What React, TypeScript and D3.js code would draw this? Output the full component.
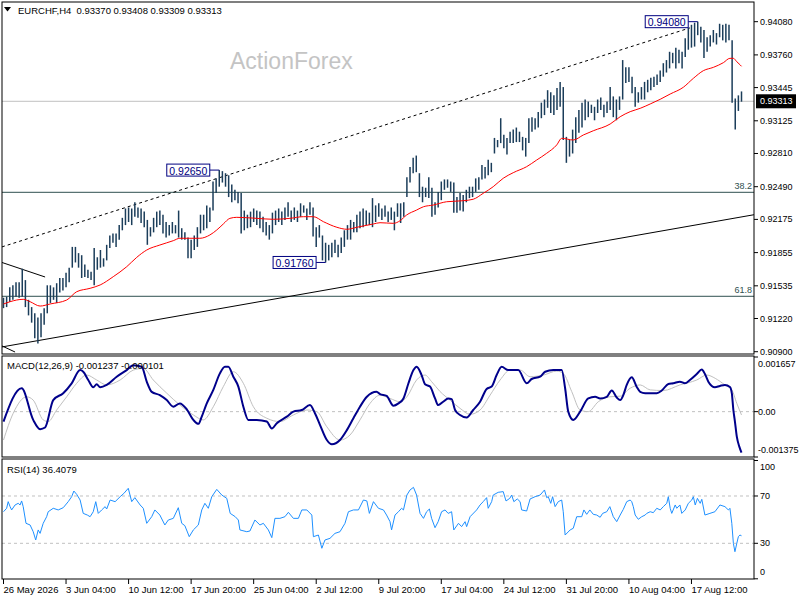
import * as d3 from "d3";

// EURCHF H4 bars
const HIGH = [
  0.9142, 0.9143, 0.9152, 0.9154, 0.9157, 0.9157, 0.917, 0.9159, 0.914, 0.9133,
  0.9127, 0.9123, 0.9127, 0.9132, 0.9154, 0.9154, 0.9152, 0.9156, 0.9161, 0.9161,
  0.9166, 0.9171, 0.9191, 0.9191, 0.9185, 0.9183, 0.9174, 0.9169, 0.9167, 0.919,
  0.9181, 0.9188, 0.918, 0.9193, 0.9202, 0.9204, 0.9204, 0.9212, 0.9219, 0.9228,
  0.9229, 0.9228, 0.9234, 0.9229, 0.9228, 0.9225, 0.9217, 0.921, 0.9219, 0.9225,
  0.9226, 0.9222, 0.9215, 0.9212, 0.9215, 0.9212, 0.9226, 0.9209, 0.9205, 0.92,
  0.9198, 0.9202, 0.921, 0.9222, 0.9222, 0.9231, 0.9229, 0.9254, 0.9257, 0.9265,
  0.9264, 0.9262, 0.926, 0.9251, 0.9246, 0.9244, 0.9243, 0.9226, 0.9222, 0.9225,
  0.9228, 0.9226, 0.9225, 0.922, 0.9215, 0.9212, 0.9224, 0.9226, 0.9228, 0.9225,
  0.9229, 0.9234, 0.9226, 0.9229, 0.9226, 0.9233, 0.9231, 0.9228, 0.9234, 0.9229,
  0.921, 0.9212, 0.9202, 0.9195, 0.9193, 0.9195, 0.9198, 0.9193, 0.92, 0.9207,
  0.9212, 0.9217, 0.9215, 0.9222, 0.9225, 0.9228, 0.9226, 0.9224, 0.9238, 0.9231,
  0.9233, 0.9228, 0.9231, 0.9225, 0.9229, 0.9225, 0.9233, 0.9233, 0.9234, 0.9258,
  0.9268, 0.9277, 0.9279, 0.9262, 0.9249, 0.9248, 0.9258, 0.9248, 0.9234, 0.9244,
  0.9254, 0.9256, 0.9256, 0.9254, 0.9253, 0.9239, 0.9243, 0.9241, 0.9246, 0.9249,
  0.9249, 0.9257, 0.9258, 0.927, 0.9268, 0.9275, 0.9272, 0.9296, 0.9294, 0.9315,
  0.9299, 0.9296, 0.9302, 0.9304, 0.9306, 0.9302, 0.9297, 0.9296, 0.9315, 0.9316,
  0.9315, 0.9321, 0.933, 0.9333, 0.9342, 0.934, 0.9337, 0.9344, 0.935, 0.9345,
  0.9297, 0.9294, 0.9304, 0.9316, 0.9323, 0.933, 0.9333, 0.9331, 0.9328, 0.9326,
  0.9333, 0.9335, 0.9328, 0.9331, 0.9345, 0.9336, 0.9333, 0.9336, 0.9371, 0.9364,
  0.9364, 0.9355, 0.9345, 0.934, 0.9345, 0.935, 0.9352, 0.9354, 0.9355, 0.9357,
  0.9361, 0.9368, 0.9371, 0.9379, 0.9378, 0.9383, 0.9381, 0.9379, 0.9392, 0.9402,
  0.9405, 0.9407, 0.9408, 0.9403, 0.94, 0.9393, 0.9395, 0.94, 0.9397, 0.9406,
  0.9405, 0.9406, 0.9405, 0.939, 0.9334, 0.9337, 0.93408,
];

const LOW = [
  0.9132, 0.9133, 0.9138, 0.914, 0.9143, 0.9142, 0.9143, 0.9133, 0.9125, 0.9118,
  0.9103, 0.9098, 0.9104, 0.9116, 0.9127, 0.9137, 0.914, 0.9137, 0.9147, 0.9149,
  0.9152, 0.9157, 0.9171, 0.9176, 0.9171, 0.9161, 0.9162, 0.9161, 0.9159, 0.9154,
  0.9169, 0.9171, 0.9172, 0.9178, 0.919, 0.9195, 0.9191, 0.9198, 0.9207, 0.9212,
  0.9215, 0.9212, 0.922, 0.9219, 0.9214, 0.921, 0.9193, 0.9201, 0.9205, 0.921,
  0.9212, 0.9204, 0.92, 0.9202, 0.9204, 0.9204, 0.92, 0.9198, 0.9198, 0.918,
  0.918, 0.9188, 0.9191, 0.9204, 0.9207, 0.9209, 0.9215, 0.9226, 0.9243, 0.9249,
  0.9253, 0.9249, 0.9239, 0.9234, 0.9236, 0.9233, 0.9204, 0.9207, 0.9209, 0.921,
  0.9215, 0.9212, 0.9209, 0.9205, 0.9202, 0.9198, 0.9204, 0.9212, 0.9215, 0.9212,
  0.9217, 0.922, 0.9215, 0.9217, 0.9215, 0.922, 0.9224, 0.9217, 0.9222, 0.9201,
  0.9191, 0.92, 0.9178, 0.9176, 0.9178, 0.9181, 0.9185, 0.9181, 0.9185, 0.9191,
  0.9198, 0.9198, 0.9205, 0.9205, 0.9209, 0.921, 0.9212, 0.9212, 0.921, 0.9215,
  0.922, 0.9217, 0.922, 0.9215, 0.9217, 0.9207, 0.922, 0.9214, 0.922, 0.9239,
  0.9253, 0.9262, 0.9263, 0.9239, 0.9234, 0.9239, 0.9238, 0.922, 0.9222, 0.9229,
  0.9236, 0.9246, 0.9248, 0.9244, 0.9224, 0.9224, 0.9226, 0.9225, 0.9234, 0.9238,
  0.9239, 0.9244, 0.9246, 0.9256, 0.9257, 0.926, 0.9263, 0.9281, 0.9287, 0.9291,
  0.9286, 0.928, 0.9291, 0.9291, 0.9292, 0.9292, 0.9284, 0.9278, 0.9291, 0.9302,
  0.9304, 0.9306, 0.9315, 0.9318, 0.9325, 0.932, 0.9318, 0.9323, 0.9326, 0.9294,
  0.9272, 0.9278, 0.9281, 0.9291, 0.9301, 0.9306, 0.9313, 0.9316, 0.932, 0.9313,
  0.932, 0.9323, 0.9316, 0.932, 0.9323, 0.9316, 0.9313, 0.9323, 0.9333, 0.9349,
  0.935, 0.9339, 0.9326, 0.933, 0.9333, 0.9333, 0.934, 0.9342, 0.9345, 0.9347,
  0.935, 0.9355, 0.9359, 0.9363, 0.9368, 0.9363, 0.9368, 0.9363, 0.9374, 0.9381,
  0.9383, 0.9384, 0.9395, 0.9388, 0.9373, 0.9379, 0.9384, 0.9388, 0.9386, 0.9393,
  0.939, 0.9388, 0.939, 0.933, 0.9304, 0.9322, 0.93309,
];

// red moving average, read at bar positions
const MA_AT = [
  0, 2.1, 6.3, 8.5, 11.7, 14.9, 20.2, 23.4, 27.7, 30.9, 35.1, 39.4, 42.6, 45.8, 50, 54.3, 56.4, 59.6,
  62.8, 66, 68.2, 70.3, 72.4, 74.6, 81, 86.3, 91.6, 95.9, 99.1, 102.3, 106.6, 109.8, 113, 118.3,
  120.4, 124.7, 126.8, 128.9, 132.1, 134.3, 137.4, 141.7, 147, 150.2, 153.4, 156.6, 159.8, 163,
  167.3, 170.5, 173.7, 176.9, 178.5, 182.2, 185.4, 188.6, 194, 197.2, 200.4, 203.6, 206.8, 210,
  213.2, 217.4, 220.6, 223.8, 227, 230.2, 232.3, 233.4, 234.5, 235.6, 236,
];
const MA_VAL = [
  0.9136, 0.91382, 0.91405, 0.91382, 0.9134, 0.9136, 0.91398, 0.91478, 0.91511, 0.91543, 0.91623,
  0.91719, 0.91809, 0.9188, 0.91928, 0.9197, 0.91993, 0.91993,
  0.91993, 0.92025, 0.92073, 0.92131, 0.92185, 0.92195, 0.92185, 0.92176, 0.92185, 0.92201,
  0.92201, 0.92153, 0.92099, 0.9208, 0.92099, 0.92131,
  0.92143, 0.92137, 0.92162, 0.92217, 0.92265, 0.92297, 0.92313, 0.92345, 0.92355, 0.92369,
  0.92426, 0.9249, 0.92571, 0.92625,
  0.92683, 0.92747, 0.92812, 0.92892, 0.92956, 0.9294, 0.92988, 0.93029, 0.93094, 0.93164,
  0.93213, 0.93245, 0.93287, 0.93332,
  0.93383, 0.93448, 0.93534, 0.93608, 0.9364, 0.93685, 0.93727, 0.93727, 0.93694, 0.93663, 0.9365,
];

const MACD_AT = [
  0, 5.8, 9.5, 11.7, 13.3, 15.9, 19.1, 21.8, 24.5, 25.5, 27.1, 28.7, 29.8, 30.9, 33, 36.2, 39.4,
  41.5, 44.2, 45.8, 47.4, 50, 52.2, 54.3, 56.4, 58.6, 60.7, 62.3, 63.4, 65, 67.1, 69.2, 70.8, 71.9,
  73.5, 75.1, 76.7, 78.3, 81, 84.2, 85.8, 87.4, 90.6, 92.7, 95.4, 98, 99.6, 101.2, 103.4, 105,
  107.6, 109.8, 111.9, 114, 116.2, 119.3, 120.4, 122.5, 124.7, 126.3, 127.9, 129.5, 131.1, 132.1,
  133.7, 134.8, 136.4, 138, 139, 140.6, 142.2, 143.3, 144.4, 146, 148.1, 150.2, 152.4, 154.5,
  156.1, 157.7, 159.3, 161.4, 164.6, 167.3, 168.9, 171.6, 173.2, 175.8, 178.5, 179.6, 180.6,
  182.2, 184.4, 187, 189.2, 190.8, 192.9, 194.5, 196.1, 197.2, 198.2, 199.3, 200.9, 202.5, 203.6,
  205.2, 208.9, 210.5, 212.6, 214.2, 216.3, 217.9, 219.5, 221.7, 223.3, 224.3, 225.4, 227.5,
  229.1, 230.7, 232.3, 232.9, 233.4, 233.9, 234.5, 235.3, 236,
];
const MACD_VAL = [
  -0.0003, 0.00071, -0.00025, -0.00053, -0.00048, 0.00035, 0.00056, 0.00086, 0.00126, 0.00121,
  0.00096, 0.00074, 0.00083, 0.00074, 0.00081, 0.00106, 0.00126,
  0.00141, 0.00136, 0.00091, 0.0006, 0.0005, 0.00035, 0.00015, 0.00025, 0.00007, -0.00025,
  -0.00037, -0.00015, 0.00025, 0.00066, 0.00116, 0.00136, 0.00136,
  0.00106, 0.00076, 0.00015, -0.00025, -0.00025, -0.0003, -0.00051, -0.00035, -0.00015, 0.0,
  0.00005, 0.0002, -0.00005, -0.0004, -0.00086, -0.00099,
  -0.00086, -0.00056, -0.0002, 0.00015, 0.00045, 0.0006, 0.00053, 0.00048, 0.00018, 0.00025,
  0.0004, 0.00086, 0.00126, 0.00136,
  0.00111, 0.00083, 0.00076, 0.0004, 0.0002, 0.0003, 0.0004, 0.00038, 0.00005, -0.0001, -0.00018,
  0.00005, 0.0003, 0.00069,
  0.00076, 0.00111, 0.00136, 0.00126, 0.00126, 0.00086, 0.00099, 0.00106, 0.00121, 0.00126,
  0.00126, 0.00071, 0.0,
  -0.00025, 0.0, 0.0004, 0.00045, 0.0004, 0.00045, 0.00064, 0.00043, 0.00035, 0.0005, 0.00081,
  0.00104, 0.00075, 0.0006,
  0.00056, 0.00056, 0.00064, 0.00084, 0.00086, 0.00091, 0.00086, 0.00096, 0.00114, 0.00128,
  0.00114, 0.00091, 0.00074,
  0.00078, 0.00081, 0.00075, 0.00056, 0.00005, -0.0003, -0.00076, -0.00106, -0.00124,
];

const SIGNAL_AT = [
  0, 3.1, 7.4, 9.5, 12.7, 14.3, 17, 20.2, 23.4, 26.6, 29.8, 33, 37.3, 41.5, 44.7, 47.9, 52.2, 56.4,
  60.7, 63.9, 67.1, 70.3, 73.5, 76.7, 79.9, 84.2, 88.4, 92.7, 97, 100.2, 103.4, 107.6, 110.8, 114,
  117.2, 120.4, 123.6, 126.8, 129, 132.1, 134.8, 136.9, 139.6, 142.8, 146, 149.2, 152.4, 155.6,
  158.8, 162, 165.2, 168.4, 172.7, 176.9, 179, 181.7, 184.4, 187, 190.2, 193.9, 197.2, 200.4,
  203.6, 206.8, 211, 216.3, 221.7, 224.9, 227.6, 230.7, 232.9, 234.5, 236,
];
const SIGNAL_VAL = [
  -0.00086, -0.00005, 0.00045, 0.00035, -0.00025, -0.0003, 0.00005, 0.00045, 0.00086, 0.00111,
  0.00096, 0.00081, 0.00096, 0.00126, 0.00131, 0.00096, 0.00056, 0.0002,
  -0.0001, -0.00025, 0.00015, 0.00076, 0.00121, 0.00086, 0.00015, -0.0002, -0.0003, -0.0001,
  0.00005, 0.0, -0.00046, -0.00086, -0.00071, -0.00025,
  0.00025, 0.0005, 0.0004, 0.0003, 0.00045, 0.00096, 0.00111, 0.00091, 0.00061, 0.00035, 0.0001,
  -0.00008, 0.00005, 0.0005,
  0.00096, 0.00126, 0.00126, 0.00106, 0.00111, 0.00123, 0.00116, 0.00061, 0.00005, 0.0, 0.0003,
  0.00045, 0.00047, 0.00071,
  0.00081, 0.00066, 0.00064, 0.00081, 0.00096, 0.00111, 0.00101, 0.00081, 0.00066, 0.00025, -0.0001,
];

const RSI_AT = [
  0, 1, 1.5, 2.1, 2.6, 3.7, 4.7, 5.3, 5.8, 6.3, 7.2, 8.5, 9.5, 10.3, 11.1, 11.7, 12.7, 13.8, 14.3,
  15.9, 17.5, 19.1, 20.7, 21.8, 22.5, 23.4, 24.5, 25.5, 26.8, 27.7, 28.7, 29.5, 30.3, 31.4, 32.5,
  33, 34.1, 35.7, 37.3, 38.5, 39.9, 41, 42, 43.7, 44.7, 45.8, 47.4, 48.4, 50, 51.6, 52.7, 54.3,
  55.9, 57, 58, 59.4, 60.7, 62.3, 63.4, 64.4, 65.5, 66.6, 68.2, 69.8, 71.4, 72.5, 74.1, 75.1, 75.6,
  77.8, 78.8, 80.4, 82, 83.1, 84.7, 85.8, 86.8, 88.4, 90, 91.1, 92.7, 94.3, 95.4, 97, 98.6, 99.1,
  100.7, 101.8, 102.8, 104.4, 106, 107.6, 109.2, 110.3, 111.9, 113.5, 115.1, 116.2, 117, 118.3,
  119.9, 121.5, 122.5, 123.6, 124.1, 125.2, 126.3, 127.3, 127.9, 129, 130, 131.1, 132.1, 133.2,
  134.3, 135.3, 136.2, 136.9, 138, 139, 140.1, 141.2, 142.2, 143.3, 144, 145.5, 146.5, 147.6, 148.1,
  149.2, 151.3, 152.4, 153.4, 154.5, 155, 156.1, 156.6, 158.2, 159.8, 160.7, 161.9, 162.5, 163.2,
  164.3, 165.2, 165.7, 167.3, 168.4, 170, 171.6, 173, 173.7, 174.2, 175, 175.6, 176.4, 177.4,
  178.5, 179, 179.6, 181.2, 182.2, 183.3, 184.9, 185.6, 186.5, 187.5, 188.6, 189.7, 190.8, 191.6,
  192.9, 193.9, 195, 196.1, 197.2, 198.2, 199.3, 200.4, 200.9, 201.4, 202, 203, 204.1, 205.2,
  205.7, 206.8, 207.8, 208.9, 210, 211, 212.1, 212.6, 213.2, 213.7, 214.8, 215.3, 216.3, 216.9,
  218, 219, 220.1, 220.6, 221.2, 221.9, 222.8, 223.3, 224.3, 225.9, 227.5, 229.1, 230.7, 231.8,
  232.3, 232.9, 233.4, 233.9, 234.5, 235, 235.5, 236,
];
const RSI_VAL = [
  56.7, 59.6, 65.2, 61, 58.2, 62.4, 63.8, 62.4, 65.8, 61, 46.9, 45.5, 39.8, 32.8, 41.3, 38.4, 46.9,
  52.5, 56.7, 59.6, 58.2, 60.1, 65.2, 69.4, 74.2, 71.4, 66.6, 55.3, 53.9, 52.5, 56.7, 65.2, 55.3,
  58.2, 61, 59, 66.6, 65.2, 69.4, 72.2, 76.5, 65.2, 68.6, 62.4, 59.6, 46.9, 52.5, 58.2, 53.9, 45.5,
  49.7, 51.1, 60.1, 46.9, 44.9, 35.6, 41.3, 45.5, 58.2, 63.8, 59.6, 69.4, 75.6, 70.8, 68, 55.3, 52.5,
  49.7, 41.3, 39.8, 40.4, 49.7, 45.5, 46.9, 41.3, 34.8, 51.1, 51.1, 52.5, 56.2, 51.1, 51.1, 58.2,
  58.2, 53.9, 35.6, 37, 25.8, 32.8, 34.2, 38.4, 39.8, 46.9, 56.7, 58.2, 58.2, 66.6, 65.8, 55.3,
  65.2, 59.6, 58.2, 53.9, 48.3, 41.3, 53.9, 56.7, 59.6, 58.2, 70.8, 75.1, 77.3, 70.8, 55.3, 51.1,
  56.7, 59, 51.1, 43.2, 48.3, 56.7, 58.2, 55.3, 56.7, 41.3, 46.9, 44.1, 48.3, 44.1, 52.5, 58.2,
  62.4, 65.2, 68.6, 59.6, 65.2, 70.8, 73.1, 73.7, 65.8, 68, 70.8, 65.2, 67.5, 65.2, 58.2, 57.3,
  67.5, 69.4, 70.8, 75.1, 68.6, 69.4, 63.8, 69.4, 61, 65.2, 66.6, 56.7, 37, 41.3, 42.7, 52.5, 52.5,
  58.2, 54.5, 58.2, 54.5, 53.9, 52, 55.3, 56.7, 61, 52.5, 48.3, 53.9, 58.7, 65.2, 66.6, 65.2, 61,
  53.9, 50.3, 52.5, 53.9, 55.3, 56.7, 55.9, 59.6, 58.2, 61, 63.8, 69.4, 59.6, 55.3, 62.4, 59.6,
  62.4, 55.3, 58.2, 63.8, 66.6, 69.4, 62.4, 68, 63.8, 67.2, 53.9, 55.3, 56.7, 62.4, 61, 58.2, 59.6,
  46.9, 30, 22.9, 30, 35.6, 37, 36.4,
];

const TIME_LABELS = [
  "26 May 2026", "3 Jun 04:00", "10 Jun 12:00", "17 Jun 20:00", "25 Jun 04:00", "2 Jul 12:00",
  "9 Jul 20:00", "17 Jul 04:00", "24 Jul 12:00", "31 Jul 20:00", "10 Aug 04:00", "17 Aug 12:00",
];
const TIME_TICK_BARS = [0, 20, 40, 60, 80, 100, 120, 140, 160, 180, 200, 220];

const PRICE_TICKS = [0.9408, 0.9376, 0.93445, 0.93125, 0.9281, 0.9249, 0.92175, 0.91855, 0.91535, 0.9122, 0.909];
const FIB_LEVELS = [
  { label: "38.2", price: 0.92436 },
  { label: "61.8", price: 0.91434 },
];
const BID = 0.93313;
const SWING_LABELS = [
  { bar: 69, price: 0.9265, text: "0.92650" },
  { bar: 103, price: 0.9176, text: "0.91760" },
  { bar: 222, price: 0.9408, text: "0.94080" },
];
// trendlines as [bar, price] pairs
const TRENDLINES = [
  { a: [-0.5, 0.9191], b: [219.5, 0.9402], dash: "3,3" },
  { a: [-0.5, 0.90946], b: [240, 0.9222], dash: "" },
  { a: [-0.5, 0.9176], b: [13.3, 0.9162], dash: "" },
  { a: [-0.5, 0.90956], b: [3.7, 0.90897], dash: "" },
];

const MACD_TICKS = [0.001657, 0, -0.001375];
const MACD_TICK_TEXT = ["0.001657", "0.00", "-0.001375"];
const RSI_TICKS = [100, 70, 30, 0];

const FONT = "'Liberation Sans', Arial, sans-serif";
const BAR_COLOR = "#1b3d5a";

export default function App() {
  const W = 800;
  const H = 600;
  const left = 2;
  const right = 754;
  const main = { top: 2, bottom: 354 };
  const macdP = { top: 356, bottom: 457 };
  const rsiP = { top: 459, bottom: 579 };

  const n = HIGH.length;
  const x = d3.scaleLinear().domain([0, n - 1]).range([3.5, 741.5]);
  const y = d3.scaleLinear().domain([0.90878, 0.9426]).range([354, 3]);
  const yM = d3.scaleLinear().domain([-0.001375, 0.001657]).range([457, 357]);
  const yR = d3.scaleLinear().domain([0, 100]).range([578.8, 460.5]);

  const pairLine = (sc: d3.ScaleLinear<number, number>, at: number[], smooth: boolean) =>
    d3
      .line<number>()
      .x((_, i) => x(at[i]))
      .y((d) => sc(d))
      .curve(smooth ? d3.curveMonotoneX : d3.curveLinear);

  const clampM = (v: number) => Math.min(Math.max(yM(v), macdP.top + 8), macdP.bottom - 7);
  const clampR = (v: number) => Math.min(Math.max(yR(v), rsiP.top + 8), rsiP.bottom - 7);

  return (
    <div style={{ position: "absolute", left: 0, top: 0, background: "#fff" }}>
      <svg width={W} height={H} viewBox={`0 0 ${W} ${H}`} style={{ display: "block", fontFamily: FONT }}>
        <rect width={W} height={H} fill="#fff" />
        <defs>
          <clipPath id="clip-main">
            <rect x={left} y={main.top} width={right - left} height={main.bottom - main.top} />
          </clipPath>
          <clipPath id="clip-macd">
            <rect x={left} y={macdP.top} width={right - left} height={macdP.bottom - macdP.top} />
          </clipPath>
          <clipPath id="clip-rsi">
            <rect x={left} y={rsiP.top} width={right - left} height={rsiP.bottom - rsiP.top} />
          </clipPath>
        </defs>

        {/* watermark */}
        <text x={230} y={69} fontSize={23} fill="#c4c4c4">ActionForex</text>

        <g clipPath="url(#clip-main)">
          {FIB_LEVELS.map((f) => (
            <g key={f.label}>
              <line x1={left} x2={right} y1={y(f.price)} y2={y(f.price)} stroke="#2f4f4f" strokeWidth={1} />
              <text x={right - 2} y={y(f.price) - 3} textAnchor="end" fontSize={9} fill="#2f4f4f">{f.label}</text>
            </g>
          ))}
          <line x1={left} x2={right} y1={y(BID)} y2={y(BID)} stroke="#c0c0c0" strokeWidth={1} />
          {TRENDLINES.map((t, i) => (
            <line
              key={i}
              x1={x(t.a[0])}
              y1={y(t.a[1])}
              x2={x(t.b[0])}
              y2={y(t.b[1])}
              stroke="#000"
              strokeWidth={1}
              strokeDasharray={t.dash || undefined}
            />
          ))}
          {HIGH.map((h, i) => (
            <line key={i} x1={x(i)} x2={x(i)} y1={y(h)} y2={y(LOW[i])} stroke={BAR_COLOR} strokeWidth={1.5} />
          ))}
          <path d={pairLine(y, MA_AT, true)(MA_VAL) ?? ""} fill="none" stroke="#ff0000" strokeWidth={1} />
          {SWING_LABELS.map((s) => {
            const bx = x(s.bar);
            const by = y(s.price);
            const r = bx - 9.5;
            return (
              <g key={s.text}>
                <line x1={r} x2={bx} y1={by} y2={by} stroke="#000080" strokeWidth={1} />
                <rect x={r - 43} y={by - 6} width={43} height={12} fill="#fff" stroke="#000080" strokeWidth={1} />
                <text x={r - 21.5} y={by + 0.5} textAnchor="middle" dominantBaseline="central" fontSize={10.5} fill="#000080">
                  {s.text}
                </text>
              </g>
            );
          })}
        </g>

        {/* header */}
        <path d="M4,7 L11,7 L7.5,11.5 Z" fill="#000" />
        <text x={18} y={14} fontSize={9.5} fill="#000" style={{ whiteSpace: "pre" }}>
          {"EURCHF,H4  0.93370 0.93408 0.93309 0.93313"}
        </text>

        {/* MACD */}
        <g clipPath="url(#clip-macd)">
          <line x1={left} x2={right} y1={yM(0)} y2={yM(0)} stroke="#c0c0c0" strokeDasharray="3,3" />
          <path d={pairLine(yM, SIGNAL_AT, true)(SIGNAL_VAL) ?? ""} fill="none" stroke="#c0c0c0" strokeWidth={1} />
          <path d={pairLine(yM, MACD_AT, true)(MACD_VAL) ?? ""} fill="none" stroke="#00008b" strokeWidth={2} />
        </g>
        <text x={7} y={369} fontSize={9.5} fill="#000">MACD(12,26,9) -0.001237 -0.000101</text>

        {/* RSI */}
        <g clipPath="url(#clip-rsi)">
          {[70, 30].map((v) => (
            <line key={v} x1={left} x2={right} y1={yR(v)} y2={yR(v)} stroke="#c0c0c0" strokeDasharray="3,3" />
          ))}
          <path d={pairLine(yR, RSI_AT, false)(RSI_VAL) ?? ""} fill="none" stroke="#1e90ff" strokeWidth={1} />
        </g>
        <text x={7} y={473} fontSize={9.5} fill="#000">RSI(14) 36.4079</text>

        {/* frames */}
        {[main, macdP, rsiP].map((p, i) => (
          <rect key={i} x={left} y={p.top} width={right - left} height={p.bottom - p.top} fill="none" stroke="#000" strokeWidth={1} />
        ))}

        {/* price axis */}
        {PRICE_TICKS.map((p) => (
          <g key={p}>
            <line x1={right} x2={right + 4} y1={y(p)} y2={y(p)} stroke="#000" />
            <text x={right + 6} y={y(p)} dominantBaseline="central" fontSize={9} fill="#000">
              {p.toFixed(5)}
            </text>
          </g>
        ))}
        <rect x={right + 2} y={y(BID) - 7} width={40} height={14} fill="#000" />
        <text x={right + 6} y={y(BID)} dominantBaseline="central" fontSize={9} fill="#fff">
          {BID.toFixed(5)}
        </text>

        {MACD_TICKS.map((v, i) => (
          <g key={i}>
            <line x1={right} x2={right + 4} y1={yM(v)} y2={yM(v)} stroke="#000" />
            <text x={right + 4} y={clampM(v)} dominantBaseline="central" fontSize={9} fill="#000">
              {MACD_TICK_TEXT[i]}
            </text>
          </g>
        ))}
        {RSI_TICKS.map((v) => (
          <g key={v}>
            <line x1={right} x2={right + 4} y1={yR(v)} y2={yR(v)} stroke="#000" />
            <text x={right + 6} y={clampR(v)} dominantBaseline="central" fontSize={9} fill="#000">
              {v}
            </text>
          </g>
        ))}

        {/* time axis */}
        {TIME_TICK_BARS.map((b, i) => (
          <g key={b}>
            <line x1={x(b)} x2={x(b)} y1={rsiP.bottom} y2={rsiP.bottom + 5} stroke="#000" />
            <text x={x(b)} y={593} fontSize={9.5} fill="#000">{TIME_LABELS[i]}</text>
          </g>
        ))}
      </svg>
    </div>
  );
}
